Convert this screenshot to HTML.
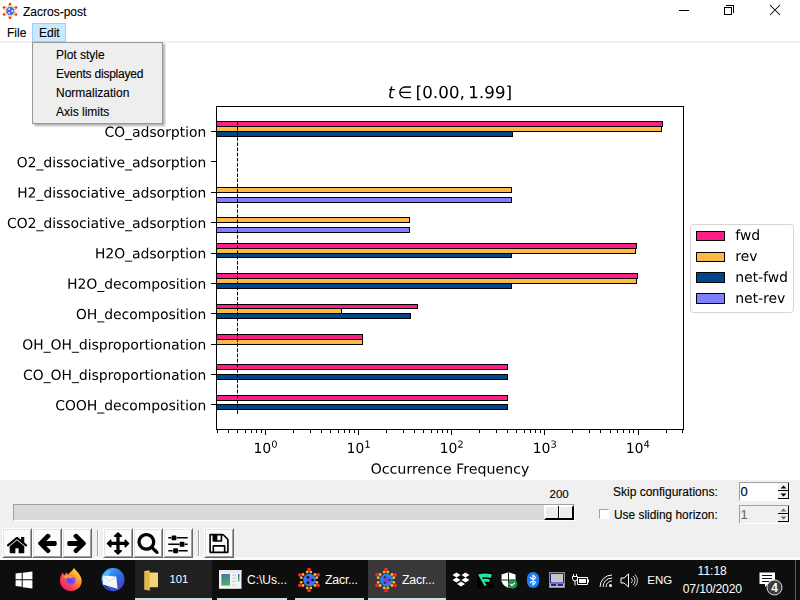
<!DOCTYPE html>
<html><head><meta charset="utf-8"><title>Zacros-post</title>
<style>
*{margin:0;padding:0;box-sizing:border-box}
html,body{width:800px;height:600px;overflow:hidden;background:#fff}
body{position:relative;font-family:"Liberation Sans",sans-serif;color:#000}
.a{position:absolute}
.t{position:absolute;white-space:nowrap;line-height:1;-webkit-text-stroke:0.12px currentColor}
#chart,#shapes{position:absolute;left:0;top:0;z-index:1}
#chart defs path{stroke:#000;stroke-width:1.2;stroke-linejoin:round}
#xlbl{transform-box:fill-box;transform-origin:center;transform:scaleX(1.02)}
#ttl{transform-box:fill-box;transform-origin:center;transform:scaleX(1.008)}
#menu{position:absolute;left:32px;top:42px;width:131px;height:82px;background:#eeeeee;border:1px solid #979797;box-shadow:2px 2px 2px rgba(0,0,0,.3);z-index:5}
.btn{position:absolute;top:528px;width:30px;height:30px;background:#fbfbfb;border-style:solid;border-width:1px;border-color:#fff #696969 #696969 #fff;box-shadow:inset 1px 1px 0 #e3e3e3,inset -1px -1px 0 #a0a0a0}
.btn svg{position:absolute;left:2px;top:2px}
.sep{position:absolute;top:530px;width:2px;height:26px;border-left:1px solid #a0a0a0;border-right:1px solid #fff}
.tb{position:absolute;top:560px;height:40px}
.tbt{position:absolute;color:#fff;font-size:12px;white-space:nowrap;line-height:1}
.ul{position:absolute;bottom:0;height:2px;background:#c3e0ea}
</style></head><body>
<!-- title bar -->
<div class="a" style="left:2px;top:3px"><svg width="16" height="16" viewBox="0 0 16 16"><circle cx="8.3" cy="8" r="4.2" fill="#2f7cf2"/><path d="M5.8 8L9.2 5.8L10 6.4L8.8 8L10 9.6L9.2 10.2Z" fill="#8a3be8"/><circle cx="10.40" cy="8.00" r="0.9" fill="#fff"/><circle cx="7.25" cy="6.18" r="0.9" fill="#fff"/><circle cx="7.25" cy="9.82" r="0.9" fill="#fff"/><circle cx="8.00" cy="1.00" r="1.25" fill="#f5222d"/><circle cx="9.21" cy="2.74" r="0.95" fill="#fdb42a"/><circle cx="6.79" cy="2.74" r="0.95" fill="#fdb42a"/><circle cx="1.94" cy="4.50" r="1.25" fill="#f5222d"/><circle cx="4.05" cy="4.32" r="0.95" fill="#fdb42a"/><circle cx="2.84" cy="6.42" r="0.95" fill="#fdb42a"/><circle cx="1.94" cy="11.50" r="1.25" fill="#f5222d"/><circle cx="2.84" cy="9.58" r="0.95" fill="#fdb42a"/><circle cx="4.05" cy="11.68" r="0.95" fill="#fdb42a"/><circle cx="8.00" cy="15.00" r="1.25" fill="#f5222d"/><circle cx="6.79" cy="13.26" r="0.95" fill="#fdb42a"/><circle cx="9.21" cy="13.26" r="0.95" fill="#fdb42a"/><circle cx="14.06" cy="11.50" r="1.25" fill="#f5222d"/><circle cx="11.95" cy="11.68" r="0.95" fill="#fdb42a"/><circle cx="13.16" cy="9.58" r="0.95" fill="#fdb42a"/><circle cx="14.06" cy="4.50" r="1.25" fill="#f5222d"/><circle cx="13.16" cy="6.42" r="0.95" fill="#fdb42a"/><circle cx="11.95" cy="4.32" r="0.95" fill="#fdb42a"/></svg></div>
<div class="t" style="left:23px;top:6px;font-size:12px">Zacros-post</div>
<div class="a" style="left:679px;top:10px;width:10px;height:1px;background:#000"></div>
<div class="a" style="left:726px;top:5px;width:8px;height:8px;border-top:1px solid #000;border-right:1px solid #000"></div>
<div class="a" style="left:724px;top:7px;width:8px;height:8px;border:1px solid #000;background:#fff"></div>
<svg class="a" style="left:769px;top:4px" width="12" height="12" viewBox="0 0 12 12"><path d="M1 1L11 11M11 1L1 11" stroke="#000" stroke-width="1.05"/></svg>
<!-- menubar -->
<div class="a" style="left:0;top:41px;width:800px;height:2px;background:#f0f0f0"></div>
<div class="t" style="left:7px;top:27px;font-size:12px">File</div>
<div class="a" style="left:32px;top:23px;width:34px;height:19px;background:#cce8ff;border:1px solid #99d1ff"></div>
<div class="t" style="left:39px;top:27px;font-size:12px">Edit</div>
<svg id="shapes" width="800" height="600" viewBox="0 0 800 600" shape-rendering="crispEdges"><rect x="217" y="122" width="445" height="4" fill="#fe1f86"/><rect x="217" y="121" width="446" height="1" fill="#000"/><rect x="217" y="126" width="446" height="1" fill="#000"/><rect x="662" y="121" width="1" height="6" fill="#000"/><rect x="217" y="127" width="444" height="4" fill="#feb845"/><rect x="217" y="126" width="445" height="1" fill="#000"/><rect x="217" y="131" width="445" height="1" fill="#000"/><rect x="661" y="126" width="1" height="6" fill="#000"/><rect x="217" y="132" width="295" height="4" fill="#00468a"/><rect x="217" y="131" width="296" height="1" fill="#000"/><rect x="217" y="136" width="296" height="1" fill="#000"/><rect x="512" y="131" width="1" height="6" fill="#000"/><rect x="217" y="188" width="294" height="4" fill="#feb845"/><rect x="217" y="187" width="295" height="1" fill="#000"/><rect x="217" y="192" width="295" height="1" fill="#000"/><rect x="511" y="187" width="1" height="6" fill="#000"/><rect x="217" y="198" width="294" height="4" fill="#8080fe"/><rect x="217" y="197" width="295" height="1" fill="#000"/><rect x="217" y="202" width="295" height="1" fill="#000"/><rect x="511" y="197" width="1" height="6" fill="#000"/><rect x="217" y="218" width="192" height="4" fill="#feb845"/><rect x="217" y="217" width="193" height="1" fill="#000"/><rect x="217" y="222" width="193" height="1" fill="#000"/><rect x="409" y="217" width="1" height="6" fill="#000"/><rect x="217" y="228" width="192" height="4" fill="#8080fe"/><rect x="217" y="227" width="193" height="1" fill="#000"/><rect x="217" y="232" width="193" height="1" fill="#000"/><rect x="409" y="227" width="1" height="6" fill="#000"/><rect x="217" y="244" width="419" height="4" fill="#fe1f86"/><rect x="217" y="243" width="420" height="1" fill="#000"/><rect x="217" y="248" width="420" height="1" fill="#000"/><rect x="636" y="243" width="1" height="6" fill="#000"/><rect x="217" y="249" width="418" height="4" fill="#feb845"/><rect x="217" y="248" width="419" height="1" fill="#000"/><rect x="217" y="253" width="419" height="1" fill="#000"/><rect x="635" y="248" width="1" height="6" fill="#000"/><rect x="217" y="254" width="294" height="3" fill="#00468a"/><rect x="217" y="253" width="295" height="1" fill="#000"/><rect x="217" y="257" width="295" height="1" fill="#000"/><rect x="511" y="253" width="1" height="5" fill="#000"/><rect x="217" y="274" width="420" height="4" fill="#fe1f86"/><rect x="217" y="273" width="421" height="1" fill="#000"/><rect x="217" y="278" width="421" height="1" fill="#000"/><rect x="637" y="273" width="1" height="6" fill="#000"/><rect x="217" y="279" width="419" height="4" fill="#feb845"/><rect x="217" y="278" width="420" height="1" fill="#000"/><rect x="217" y="283" width="420" height="1" fill="#000"/><rect x="636" y="278" width="1" height="6" fill="#000"/><rect x="217" y="284" width="294" height="4" fill="#00468a"/><rect x="217" y="283" width="295" height="1" fill="#000"/><rect x="217" y="288" width="295" height="1" fill="#000"/><rect x="511" y="283" width="1" height="6" fill="#000"/><rect x="217" y="305" width="200" height="3" fill="#fe1f86"/><rect x="217" y="304" width="201" height="1" fill="#000"/><rect x="217" y="308" width="201" height="1" fill="#000"/><rect x="417" y="304" width="1" height="5" fill="#000"/><rect x="217" y="309" width="124" height="4" fill="#feb845"/><rect x="217" y="308" width="125" height="1" fill="#000"/><rect x="217" y="313" width="125" height="1" fill="#000"/><rect x="341" y="308" width="1" height="6" fill="#000"/><rect x="217" y="314" width="193" height="4" fill="#00468a"/><rect x="217" y="313" width="194" height="1" fill="#000"/><rect x="217" y="318" width="194" height="1" fill="#000"/><rect x="410" y="313" width="1" height="6" fill="#000"/><rect x="217" y="335" width="145" height="4" fill="#fe1f86"/><rect x="217" y="334" width="146" height="1" fill="#000"/><rect x="217" y="339" width="146" height="1" fill="#000"/><rect x="362" y="334" width="1" height="6" fill="#000"/><rect x="217" y="340" width="145" height="4" fill="#feb845"/><rect x="217" y="339" width="146" height="1" fill="#000"/><rect x="217" y="344" width="146" height="1" fill="#000"/><rect x="362" y="339" width="1" height="6" fill="#000"/><rect x="217" y="365" width="290" height="4" fill="#fe1f86"/><rect x="217" y="364" width="291" height="1" fill="#000"/><rect x="217" y="369" width="291" height="1" fill="#000"/><rect x="507" y="364" width="1" height="6" fill="#000"/><rect x="217" y="375" width="290" height="4" fill="#00468a"/><rect x="217" y="374" width="291" height="1" fill="#000"/><rect x="217" y="379" width="291" height="1" fill="#000"/><rect x="507" y="374" width="1" height="6" fill="#000"/><rect x="217" y="396" width="290" height="4" fill="#fe1f86"/><rect x="217" y="395" width="291" height="1" fill="#000"/><rect x="217" y="400" width="291" height="1" fill="#000"/><rect x="507" y="395" width="1" height="6" fill="#000"/><rect x="217" y="405" width="290" height="4" fill="#00468a"/><rect x="217" y="404" width="291" height="1" fill="#000"/><rect x="217" y="409" width="291" height="1" fill="#000"/><rect x="507" y="404" width="1" height="6" fill="#000"/><line shape-rendering="auto" x1="237.5" y1="121.83" x2="237.5" y2="414.69" stroke="#000" stroke-width="1" stroke-dasharray="3.6 1.55"/><rect x="216" y="106" width="468" height="1" fill="#000"/><rect x="216" y="429" width="468" height="1" fill="#000"/><rect x="216" y="106" width="1" height="324" fill="#000"/><rect x="683" y="106" width="1" height="324" fill="#000"/><rect x="211" y="131" width="5" height="1" fill="#000"/><rect x="211" y="161" width="5" height="1" fill="#000"/><rect x="211" y="192" width="5" height="1" fill="#000"/><rect x="211" y="222" width="5" height="1" fill="#000"/><rect x="211" y="253" width="5" height="1" fill="#000"/><rect x="211" y="283" width="5" height="1" fill="#000"/><rect x="211" y="313" width="5" height="1" fill="#000"/><rect x="211" y="344" width="5" height="1" fill="#000"/><rect x="211" y="374" width="5" height="1" fill="#000"/><rect x="211" y="404" width="5" height="1" fill="#000"/><rect x="217" y="430" width="1" height="3" fill="#000"/><rect x="228" y="430" width="1" height="3" fill="#000"/><rect x="237" y="430" width="1" height="3" fill="#000"/><rect x="245" y="430" width="1" height="3" fill="#000"/><rect x="251" y="430" width="1" height="3" fill="#000"/><rect x="256" y="430" width="1" height="3" fill="#000"/><rect x="261" y="430" width="1" height="3" fill="#000"/><rect x="265" y="430" width="1" height="5" fill="#000"/><rect x="293" y="430" width="1" height="3" fill="#000"/><rect x="310" y="430" width="1" height="3" fill="#000"/><rect x="321" y="430" width="1" height="3" fill="#000"/><rect x="330" y="430" width="1" height="3" fill="#000"/><rect x="338" y="430" width="1" height="3" fill="#000"/><rect x="344" y="430" width="1" height="3" fill="#000"/><rect x="349" y="430" width="1" height="3" fill="#000"/><rect x="354" y="430" width="1" height="3" fill="#000"/><rect x="358" y="430" width="1" height="5" fill="#000"/><rect x="386" y="430" width="1" height="3" fill="#000"/><rect x="403" y="430" width="1" height="3" fill="#000"/><rect x="414" y="430" width="1" height="3" fill="#000"/><rect x="423" y="430" width="1" height="3" fill="#000"/><rect x="431" y="430" width="1" height="3" fill="#000"/><rect x="437" y="430" width="1" height="3" fill="#000"/><rect x="442" y="430" width="1" height="3" fill="#000"/><rect x="447" y="430" width="1" height="3" fill="#000"/><rect x="451" y="430" width="1" height="5" fill="#000"/><rect x="479" y="430" width="1" height="3" fill="#000"/><rect x="496" y="430" width="1" height="3" fill="#000"/><rect x="507" y="430" width="1" height="3" fill="#000"/><rect x="516" y="430" width="1" height="3" fill="#000"/><rect x="524" y="430" width="1" height="3" fill="#000"/><rect x="530" y="430" width="1" height="3" fill="#000"/><rect x="535" y="430" width="1" height="3" fill="#000"/><rect x="540" y="430" width="1" height="3" fill="#000"/><rect x="544" y="430" width="1" height="5" fill="#000"/><rect x="572" y="430" width="1" height="3" fill="#000"/><rect x="589" y="430" width="1" height="3" fill="#000"/><rect x="600" y="430" width="1" height="3" fill="#000"/><rect x="610" y="430" width="1" height="3" fill="#000"/><rect x="617" y="430" width="1" height="3" fill="#000"/><rect x="623" y="430" width="1" height="3" fill="#000"/><rect x="629" y="430" width="1" height="3" fill="#000"/><rect x="633" y="430" width="1" height="3" fill="#000"/><rect x="638" y="430" width="1" height="5" fill="#000"/><rect x="666" y="430" width="1" height="3" fill="#000"/><rect x="682" y="430" width="1" height="3" fill="#000"/><rect shape-rendering="auto" x="690.5" y="224.5" width="103" height="88" rx="2.8" fill="#fff" fill-opacity="0.8" stroke="#cccccc" stroke-opacity="0.8" stroke-width="1"/><rect x="697" y="232" width="27" height="8" fill="#fe1f86"/><rect x="696" y="231" width="29" height="1" fill="#000"/><rect x="696" y="240" width="29" height="1" fill="#000"/><rect x="696" y="231" width="1" height="10" fill="#000"/><rect x="724" y="231" width="1" height="10" fill="#000"/><rect x="697" y="253" width="27" height="8" fill="#feb845"/><rect x="696" y="252" width="29" height="1" fill="#000"/><rect x="696" y="261" width="29" height="1" fill="#000"/><rect x="696" y="252" width="1" height="10" fill="#000"/><rect x="724" y="252" width="1" height="10" fill="#000"/><rect x="697" y="273" width="27" height="9" fill="#00468a"/><rect x="696" y="272" width="29" height="1" fill="#000"/><rect x="696" y="282" width="29" height="1" fill="#000"/><rect x="696" y="272" width="1" height="11" fill="#000"/><rect x="724" y="272" width="1" height="11" fill="#000"/><rect x="697" y="294" width="27" height="9" fill="#8080fe"/><rect x="696" y="293" width="29" height="1" fill="#000"/><rect x="696" y="303" width="29" height="1" fill="#000"/><rect x="696" y="293" width="1" height="11" fill="#000"/><rect x="724" y="293" width="1" height="11" fill="#000"/></svg><svg id="chart" width="800" height="600" viewBox="0 0 576 432" version="1.1"><defs><style type="text/css">*{stroke-linejoin: round; stroke-linecap: butt}</style></defs><g id="figure_1"><g id="patch_1"><path d="M 0 432 L 576 432 L 576 0 L 0 0 L 0 432 z " style="fill: none; opacity: 0"/></g><g id="axes_1"><g id="patch_2"><path d="M 155.88 309.24 L 492.12 309.24 L 492.12 76.68 L 155.88 76.68 L 155.88 309.24 z " style="fill: none; opacity: 0"/></g><g id="matplotlib.axis_1"><g id="xtick_1"><g id="line2d_1"><defs><path id="mf0cb0c5681" d="M 0 0 L 0 3.5 " style="stroke: #000000; stroke-opacity: 0; stroke-width: 0.8"/></defs><g></g></g><g id="text_1"><!-- $\mathdefault{10^{0}}$ --><g transform="translate(182.54 326.214438) scale(0.1 -0.1)"><defs><path id="DejaVuSans-31" d="M 794 531 L 1825 531 L 1825 4091 L 703 3866 L 703 4441 L 1819 4666 L 2450 4666 L 2450 531 L 3481 531 L 3481 0 L 794 0 L 794 531 z " transform="scale(0.015625)"/><path id="DejaVuSans-30" d="M 2034 4250 Q 1547 4250 1301 3770 Q 1056 3291 1056 2328 Q 1056 1369 1301 889 Q 1547 409 2034 409 Q 2525 409 2770 889 Q 3016 1369 3016 2328 Q 3016 3291 2770 3770 Q 2525 4250 2034 4250 z M 2034 4750 Q 2819 4750 3233 4129 Q 3647 3509 3647 2328 Q 3647 1150 3233 529 Q 2819 -91 2034 -91 Q 1250 -91 836 529 Q 422 1150 422 2328 Q 422 3509 836 4129 Q 1250 4750 2034 4750 z " transform="scale(0.015625)"/></defs><use href="#DejaVuSans-31" transform="translate(0 0.765625)"/><use href="#DejaVuSans-30" transform="translate(63.623047 0.765625)"/><use href="#DejaVuSans-30" transform="translate(128.203125 39.046875) scale(0.7)"/></g></g></g><g id="xtick_2"><g id="line2d_2"><g></g></g><g id="text_2"><!-- $\mathdefault{10^{1}}$ --><g transform="translate(249.5504 326.214438) scale(0.1 -0.1)"><use href="#DejaVuSans-31" transform="translate(0 0.684375)"/><use href="#DejaVuSans-30" transform="translate(63.623047 0.684375)"/><use href="#DejaVuSans-31" transform="translate(128.203125 38.965625) scale(0.7)"/></g></g></g><g id="xtick_3"><g id="line2d_3"><g></g></g><g id="text_3"><!-- $\mathdefault{10^{2}}$ --><g transform="translate(316.5608 326.214438) scale(0.1 -0.1)"><defs><path id="DejaVuSans-32" d="M 1228 531 L 3431 531 L 3431 0 L 469 0 L 469 531 Q 828 903 1448 1529 Q 2069 2156 2228 2338 Q 2531 2678 2651 2914 Q 2772 3150 2772 3378 Q 2772 3750 2511 3984 Q 2250 4219 1831 4219 Q 1534 4219 1204 4116 Q 875 4013 500 3803 L 500 4441 Q 881 4594 1212 4672 Q 1544 4750 1819 4750 Q 2544 4750 2975 4387 Q 3406 4025 3406 3419 Q 3406 3131 3298 2873 Q 3191 2616 2906 2266 Q 2828 2175 2409 1742 Q 1991 1309 1228 531 z " transform="scale(0.015625)"/></defs><use href="#DejaVuSans-31" transform="translate(0 0.765625)"/><use href="#DejaVuSans-30" transform="translate(63.623047 0.765625)"/><use href="#DejaVuSans-32" transform="translate(128.203125 39.046875) scale(0.7)"/></g></g></g><g id="xtick_4"><g id="line2d_4"><g></g></g><g id="text_4"><!-- $\mathdefault{10^{3}}$ --><g transform="translate(383.5712 326.214438) scale(0.1 -0.1)"><defs><path id="DejaVuSans-33" d="M 2597 2516 Q 3050 2419 3304 2112 Q 3559 1806 3559 1356 Q 3559 666 3084 287 Q 2609 -91 1734 -91 Q 1441 -91 1130 -33 Q 819 25 488 141 L 488 750 Q 750 597 1062 519 Q 1375 441 1716 441 Q 2309 441 2620 675 Q 2931 909 2931 1356 Q 2931 1769 2642 2001 Q 2353 2234 1838 2234 L 1294 2234 L 1294 2753 L 1863 2753 Q 2328 2753 2575 2939 Q 2822 3125 2822 3475 Q 2822 3834 2567 4026 Q 2313 4219 1838 4219 Q 1578 4219 1281 4162 Q 984 4106 628 3988 L 628 4550 Q 988 4650 1302 4700 Q 1616 4750 1894 4750 Q 2613 4750 3031 4423 Q 3450 4097 3450 3541 Q 3450 3153 3228 2886 Q 3006 2619 2597 2516 z " transform="scale(0.015625)"/></defs><use href="#DejaVuSans-31" transform="translate(0 0.765625)"/><use href="#DejaVuSans-30" transform="translate(63.623047 0.765625)"/><use href="#DejaVuSans-33" transform="translate(128.203125 39.046875) scale(0.7)"/></g></g></g><g id="xtick_5"><g id="line2d_5"><g></g></g><g id="text_5"><!-- $\mathdefault{10^{4}}$ --><g transform="translate(450.5816 326.214438) scale(0.1 -0.1)"><defs><path id="DejaVuSans-34" d="M 2419 4116 L 825 1625 L 2419 1625 L 2419 4116 z M 2253 4666 L 3047 4666 L 3047 1625 L 3713 1625 L 3713 1100 L 3047 1100 L 3047 0 L 2419 0 L 2419 1100 L 313 1100 L 313 1709 L 2253 4666 z " transform="scale(0.015625)"/></defs><use href="#DejaVuSans-31" transform="translate(0 0.684375)"/><use href="#DejaVuSans-30" transform="translate(63.623047 0.684375)"/><use href="#DejaVuSans-34" transform="translate(128.203125 38.965625) scale(0.7)"/></g></g></g><g id="xtick_6"><g id="line2d_6"><defs><path id="mb6e50585e4" d="M 0 0 L 0 2 " style="stroke: #000000; stroke-opacity: 0; stroke-width: 0.6"/></defs><g></g></g></g><g id="xtick_7"><g id="line2d_7"><g></g></g></g><g id="xtick_8"><g id="line2d_8"><g></g></g></g><g id="xtick_9"><g id="line2d_9"><g></g></g></g><g id="xtick_10"><g id="line2d_10"><g></g></g></g><g id="xtick_11"><g id="line2d_11"><g></g></g></g><g id="xtick_12"><g id="line2d_12"><g></g></g></g><g id="xtick_13"><g id="line2d_13"><g></g></g></g><g id="xtick_14"><g id="line2d_14"><g></g></g></g><g id="xtick_15"><g id="line2d_15"><g></g></g></g><g id="xtick_16"><g id="line2d_16"><g></g></g></g><g id="xtick_17"><g id="line2d_17"><g></g></g></g><g id="xtick_18"><g id="line2d_18"><g></g></g></g><g id="xtick_19"><g id="line2d_19"><g></g></g></g><g id="xtick_20"><g id="line2d_20"><g></g></g></g><g id="xtick_21"><g id="line2d_21"><g></g></g></g><g id="xtick_22"><g id="line2d_22"><g></g></g></g><g id="xtick_23"><g id="line2d_23"><g></g></g></g><g id="xtick_24"><g id="line2d_24"><g></g></g></g><g id="xtick_25"><g id="line2d_25"><g></g></g></g><g id="xtick_26"><g id="line2d_26"><g></g></g></g><g id="xtick_27"><g id="line2d_27"><g></g></g></g><g id="xtick_28"><g id="line2d_28"><g></g></g></g><g id="xtick_29"><g id="line2d_29"><g></g></g></g><g id="xtick_30"><g id="line2d_30"><g></g></g></g><g id="xtick_31"><g id="line2d_31"><g></g></g></g><g id="xtick_32"><g id="line2d_32"><g></g></g></g><g id="xtick_33"><g id="line2d_33"><g></g></g></g><g id="xtick_34"><g id="line2d_34"><g></g></g></g><g id="xtick_35"><g id="line2d_35"><g></g></g></g><g id="xtick_36"><g id="line2d_36"><g></g></g></g><g id="xtick_37"><g id="line2d_37"><g></g></g></g><g id="xtick_38"><g id="line2d_38"><g></g></g></g><g id="xtick_39"><g id="line2d_39"><g></g></g></g><g id="xtick_40"><g id="line2d_40"><g></g></g></g><g id="xtick_41"><g id="line2d_41"><g></g></g></g><g id="xtick_42"><g id="line2d_42"><g></g></g></g><g id="xtick_43"><g id="line2d_43"><g></g></g></g><g id="xtick_44"><g id="line2d_44"><g></g></g></g><g id="xtick_45"><g id="line2d_45"><g></g></g></g><g id="xtick_46"><g id="line2d_46"><g></g></g></g><g id="xlbl"><!-- Occurrence Frequency --><g transform="translate(267.996094 341.044562) scale(0.1 -0.1)"><defs><path id="DejaVuSans-4f" d="M 2522 4238 Q 1834 4238 1429 3725 Q 1025 3213 1025 2328 Q 1025 1447 1429 934 Q 1834 422 2522 422 Q 3209 422 3611 934 Q 4013 1447 4013 2328 Q 4013 3213 3611 3725 Q 3209 4238 2522 4238 z M 2522 4750 Q 3503 4750 4090 4092 Q 4678 3434 4678 2328 Q 4678 1225 4090 567 Q 3503 -91 2522 -91 Q 1538 -91 948 565 Q 359 1222 359 2328 Q 359 3434 948 4092 Q 1538 4750 2522 4750 z " transform="scale(0.015625)"/><path id="DejaVuSans-63" d="M 3122 3366 L 3122 2828 Q 2878 2963 2633 3030 Q 2388 3097 2138 3097 Q 1578 3097 1268 2742 Q 959 2388 959 1747 Q 959 1106 1268 751 Q 1578 397 2138 397 Q 2388 397 2633 464 Q 2878 531 3122 666 L 3122 134 Q 2881 22 2623 -34 Q 2366 -91 2075 -91 Q 1284 -91 818 406 Q 353 903 353 1747 Q 353 2603 823 3093 Q 1294 3584 2113 3584 Q 2378 3584 2631 3529 Q 2884 3475 3122 3366 z " transform="scale(0.015625)"/><path id="DejaVuSans-75" d="M 544 1381 L 544 3500 L 1119 3500 L 1119 1403 Q 1119 906 1312 657 Q 1506 409 1894 409 Q 2359 409 2629 706 Q 2900 1003 2900 1516 L 2900 3500 L 3475 3500 L 3475 0 L 2900 0 L 2900 538 Q 2691 219 2414 64 Q 2138 -91 1772 -91 Q 1169 -91 856 284 Q 544 659 544 1381 z M 1991 3584 L 1991 3584 z " transform="scale(0.015625)"/><path id="DejaVuSans-72" d="M 2631 2963 Q 2534 3019 2420 3045 Q 2306 3072 2169 3072 Q 1681 3072 1420 2755 Q 1159 2438 1159 1844 L 1159 0 L 581 0 L 581 3500 L 1159 3500 L 1159 2956 Q 1341 3275 1631 3429 Q 1922 3584 2338 3584 Q 2397 3584 2469 3576 Q 2541 3569 2628 3553 L 2631 2963 z " transform="scale(0.015625)"/><path id="DejaVuSans-65" d="M 3597 1894 L 3597 1613 L 953 1613 Q 991 1019 1311 708 Q 1631 397 2203 397 Q 2534 397 2845 478 Q 3156 559 3463 722 L 3463 178 Q 3153 47 2828 -22 Q 2503 -91 2169 -91 Q 1331 -91 842 396 Q 353 884 353 1716 Q 353 2575 817 3079 Q 1281 3584 2069 3584 Q 2775 3584 3186 3129 Q 3597 2675 3597 1894 z M 3022 2063 Q 3016 2534 2758 2815 Q 2500 3097 2075 3097 Q 1594 3097 1305 2825 Q 1016 2553 972 2059 L 3022 2063 z " transform="scale(0.015625)"/><path id="DejaVuSans-6e" d="M 3513 2113 L 3513 0 L 2938 0 L 2938 2094 Q 2938 2591 2744 2837 Q 2550 3084 2163 3084 Q 1697 3084 1428 2787 Q 1159 2491 1159 1978 L 1159 0 L 581 0 L 581 3500 L 1159 3500 L 1159 2956 Q 1366 3272 1645 3428 Q 1925 3584 2291 3584 Q 2894 3584 3203 3211 Q 3513 2838 3513 2113 z " transform="scale(0.015625)"/><path id="DejaVuSans-20" transform="scale(0.015625)"/><path id="DejaVuSans-46" d="M 628 4666 L 3309 4666 L 3309 4134 L 1259 4134 L 1259 2759 L 3109 2759 L 3109 2228 L 1259 2228 L 1259 0 L 628 0 L 628 4666 z " transform="scale(0.015625)"/><path id="DejaVuSans-71" d="M 947 1747 Q 947 1113 1208 752 Q 1469 391 1925 391 Q 2381 391 2643 752 Q 2906 1113 2906 1747 Q 2906 2381 2643 2742 Q 2381 3103 1925 3103 Q 1469 3103 1208 2742 Q 947 2381 947 1747 z M 2906 525 Q 2725 213 2448 61 Q 2172 -91 1784 -91 Q 1150 -91 751 415 Q 353 922 353 1747 Q 353 2572 751 3078 Q 1150 3584 1784 3584 Q 2172 3584 2448 3432 Q 2725 3281 2906 2969 L 2906 3500 L 3481 3500 L 3481 -1331 L 2906 -1331 L 2906 525 z " transform="scale(0.015625)"/><path id="DejaVuSans-79" d="M 2059 -325 Q 1816 -950 1584 -1140 Q 1353 -1331 966 -1331 L 506 -1331 L 506 -850 L 844 -850 Q 1081 -850 1212 -737 Q 1344 -625 1503 -206 L 1606 56 L 191 3500 L 800 3500 L 1894 763 L 2988 3500 L 3597 3500 L 2059 -325 z " transform="scale(0.015625)"/></defs><use href="#DejaVuSans-4f"/><use href="#DejaVuSans-63" transform="translate(78.710938 0)"/><use href="#DejaVuSans-63" transform="translate(133.691406 0)"/><use href="#DejaVuSans-75" transform="translate(188.671875 0)"/><use href="#DejaVuSans-72" transform="translate(252.050781 0)"/><use href="#DejaVuSans-72" transform="translate(291.414062 0)"/><use href="#DejaVuSans-65" transform="translate(330.277344 0)"/><use href="#DejaVuSans-6e" transform="translate(391.800781 0)"/><use href="#DejaVuSans-63" transform="translate(455.179688 0)"/><use href="#DejaVuSans-65" transform="translate(510.160156 0)"/><use href="#DejaVuSans-20" transform="translate(571.683594 0)"/><use href="#DejaVuSans-46" transform="translate(603.470703 0)"/><use href="#DejaVuSans-72" transform="translate(653.740234 0)"/><use href="#DejaVuSans-65" transform="translate(692.603516 0)"/><use href="#DejaVuSans-71" transform="translate(754.126953 0)"/><use href="#DejaVuSans-75" transform="translate(817.603516 0)"/><use href="#DejaVuSans-65" transform="translate(880.982422 0)"/><use href="#DejaVuSans-6e" transform="translate(942.505859 0)"/><use href="#DejaVuSans-63" transform="translate(1005.884766 0)"/><use href="#DejaVuSans-79" transform="translate(1060.865234 0)"/></g></g></g><g id="matplotlib.axis_2"><g id="ytick_1"><g id="line2d_47"><defs><path id="m7ebbb2c059" d="M 0 0 L -3.5 0 " style="stroke: #000000; stroke-opacity: 0; stroke-width: 0.8"/></defs><g></g></g><g id="text_6"><!-- CO_adsorption --><g transform="translate(75.246562 98.515219) scale(0.1 -0.1)"><defs><path id="DejaVuSans-43" d="M 4122 4306 L 4122 3641 Q 3803 3938 3442 4084 Q 3081 4231 2675 4231 Q 1875 4231 1450 3742 Q 1025 3253 1025 2328 Q 1025 1406 1450 917 Q 1875 428 2675 428 Q 3081 428 3442 575 Q 3803 722 4122 1019 L 4122 359 Q 3791 134 3420 21 Q 3050 -91 2638 -91 Q 1578 -91 968 557 Q 359 1206 359 2328 Q 359 3453 968 4101 Q 1578 4750 2638 4750 Q 3056 4750 3426 4639 Q 3797 4528 4122 4306 z " transform="scale(0.015625)"/><path id="DejaVuSans-5f" d="M 3263 -1063 L 3263 -1509 L -63 -1509 L -63 -1063 L 3263 -1063 z " transform="scale(0.015625)"/><path id="DejaVuSans-61" d="M 2194 1759 Q 1497 1759 1228 1600 Q 959 1441 959 1056 Q 959 750 1161 570 Q 1363 391 1709 391 Q 2188 391 2477 730 Q 2766 1069 2766 1631 L 2766 1759 L 2194 1759 z M 3341 1997 L 3341 0 L 2766 0 L 2766 531 Q 2569 213 2275 61 Q 1981 -91 1556 -91 Q 1019 -91 701 211 Q 384 513 384 1019 Q 384 1609 779 1909 Q 1175 2209 1959 2209 L 2766 2209 L 2766 2266 Q 2766 2663 2505 2880 Q 2244 3097 1772 3097 Q 1472 3097 1187 3025 Q 903 2953 641 2809 L 641 3341 Q 956 3463 1253 3523 Q 1550 3584 1831 3584 Q 2591 3584 2966 3190 Q 3341 2797 3341 1997 z " transform="scale(0.015625)"/><path id="DejaVuSans-64" d="M 2906 2969 L 2906 4863 L 3481 4863 L 3481 0 L 2906 0 L 2906 525 Q 2725 213 2448 61 Q 2172 -91 1784 -91 Q 1150 -91 751 415 Q 353 922 353 1747 Q 353 2572 751 3078 Q 1150 3584 1784 3584 Q 2172 3584 2448 3432 Q 2725 3281 2906 2969 z M 947 1747 Q 947 1113 1208 752 Q 1469 391 1925 391 Q 2381 391 2643 752 Q 2906 1113 2906 1747 Q 2906 2381 2643 2742 Q 2381 3103 1925 3103 Q 1469 3103 1208 2742 Q 947 2381 947 1747 z " transform="scale(0.015625)"/><path id="DejaVuSans-73" d="M 2834 3397 L 2834 2853 Q 2591 2978 2328 3040 Q 2066 3103 1784 3103 Q 1356 3103 1142 2972 Q 928 2841 928 2578 Q 928 2378 1081 2264 Q 1234 2150 1697 2047 L 1894 2003 Q 2506 1872 2764 1633 Q 3022 1394 3022 966 Q 3022 478 2636 193 Q 2250 -91 1575 -91 Q 1294 -91 989 -36 Q 684 19 347 128 L 347 722 Q 666 556 975 473 Q 1284 391 1588 391 Q 1994 391 2212 530 Q 2431 669 2431 922 Q 2431 1156 2273 1281 Q 2116 1406 1581 1522 L 1381 1569 Q 847 1681 609 1914 Q 372 2147 372 2553 Q 372 3047 722 3315 Q 1072 3584 1716 3584 Q 2034 3584 2315 3537 Q 2597 3491 2834 3397 z " transform="scale(0.015625)"/><path id="DejaVuSans-6f" d="M 1959 3097 Q 1497 3097 1228 2736 Q 959 2375 959 1747 Q 959 1119 1226 758 Q 1494 397 1959 397 Q 2419 397 2687 759 Q 2956 1122 2956 1747 Q 2956 2369 2687 2733 Q 2419 3097 1959 3097 z M 1959 3584 Q 2709 3584 3137 3096 Q 3566 2609 3566 1747 Q 3566 888 3137 398 Q 2709 -91 1959 -91 Q 1206 -91 779 398 Q 353 888 353 1747 Q 353 2609 779 3096 Q 1206 3584 1959 3584 z " transform="scale(0.015625)"/><path id="DejaVuSans-70" d="M 1159 525 L 1159 -1331 L 581 -1331 L 581 3500 L 1159 3500 L 1159 2969 Q 1341 3281 1617 3432 Q 1894 3584 2278 3584 Q 2916 3584 3314 3078 Q 3713 2572 3713 1747 Q 3713 922 3314 415 Q 2916 -91 2278 -91 Q 1894 -91 1617 61 Q 1341 213 1159 525 z M 3116 1747 Q 3116 2381 2855 2742 Q 2594 3103 2138 3103 Q 1681 3103 1420 2742 Q 1159 2381 1159 1747 Q 1159 1113 1420 752 Q 1681 391 2138 391 Q 2594 391 2855 752 Q 3116 1113 3116 1747 z " transform="scale(0.015625)"/><path id="DejaVuSans-74" d="M 1172 4494 L 1172 3500 L 2356 3500 L 2356 3053 L 1172 3053 L 1172 1153 Q 1172 725 1289 603 Q 1406 481 1766 481 L 2356 481 L 2356 0 L 1766 0 Q 1100 0 847 248 Q 594 497 594 1153 L 594 3053 L 172 3053 L 172 3500 L 594 3500 L 594 4494 L 1172 4494 z " transform="scale(0.015625)"/><path id="DejaVuSans-69" d="M 603 3500 L 1178 3500 L 1178 0 L 603 0 L 603 3500 z M 603 4863 L 1178 4863 L 1178 4134 L 603 4134 L 603 4863 z " transform="scale(0.015625)"/></defs><use href="#DejaVuSans-43"/><use href="#DejaVuSans-4f" transform="translate(69.824219 0)"/><use href="#DejaVuSans-5f" transform="translate(148.535156 0)"/><use href="#DejaVuSans-61" transform="translate(198.535156 0)"/><use href="#DejaVuSans-64" transform="translate(259.814453 0)"/><use href="#DejaVuSans-73" transform="translate(323.291016 0)"/><use href="#DejaVuSans-6f" transform="translate(375.390625 0)"/><use href="#DejaVuSans-72" transform="translate(436.572266 0)"/><use href="#DejaVuSans-70" transform="translate(477.685547 0)"/><use href="#DejaVuSans-74" transform="translate(541.162109 0)"/><use href="#DejaVuSans-69" transform="translate(580.371094 0)"/><use href="#DejaVuSans-6f" transform="translate(608.154297 0)"/><use href="#DejaVuSans-6e" transform="translate(669.335938 0)"/></g></g></g><g id="ytick_2"><g id="line2d_48"><g></g></g><g id="text_7"><!-- O2_dissociative_adsorption --><g transform="translate(12.027812 120.388819) scale(0.1 -0.1)"><defs><path id="DejaVuSans-76" d="M 191 3500 L 800 3500 L 1894 563 L 2988 3500 L 3597 3500 L 2284 0 L 1503 0 L 191 3500 z " transform="scale(0.015625)"/></defs><use href="#DejaVuSans-4f"/><use href="#DejaVuSans-32" transform="translate(78.710938 0)"/><use href="#DejaVuSans-5f" transform="translate(142.333984 0)"/><use href="#DejaVuSans-64" transform="translate(192.333984 0)"/><use href="#DejaVuSans-69" transform="translate(255.810547 0)"/><use href="#DejaVuSans-73" transform="translate(283.59375 0)"/><use href="#DejaVuSans-73" transform="translate(335.693359 0)"/><use href="#DejaVuSans-6f" transform="translate(387.792969 0)"/><use href="#DejaVuSans-63" transform="translate(448.974609 0)"/><use href="#DejaVuSans-69" transform="translate(503.955078 0)"/><use href="#DejaVuSans-61" transform="translate(531.738281 0)"/><use href="#DejaVuSans-74" transform="translate(593.017578 0)"/><use href="#DejaVuSans-69" transform="translate(632.226562 0)"/><use href="#DejaVuSans-76" transform="translate(660.009766 0)"/><use href="#DejaVuSans-65" transform="translate(719.189453 0)"/><use href="#DejaVuSans-5f" transform="translate(780.712891 0)"/><use href="#DejaVuSans-61" transform="translate(830.712891 0)"/><use href="#DejaVuSans-64" transform="translate(891.992188 0)"/><use href="#DejaVuSans-73" transform="translate(955.46875 0)"/><use href="#DejaVuSans-6f" transform="translate(1007.568359 0)"/><use href="#DejaVuSans-72" transform="translate(1068.75 0)"/><use href="#DejaVuSans-70" transform="translate(1109.863281 0)"/><use href="#DejaVuSans-74" transform="translate(1173.339844 0)"/><use href="#DejaVuSans-69" transform="translate(1212.548828 0)"/><use href="#DejaVuSans-6f" transform="translate(1240.332031 0)"/><use href="#DejaVuSans-6e" transform="translate(1301.513672 0)"/></g></g></g><g id="ytick_3"><g id="line2d_49"><g></g></g><g id="text_8"><!-- H2_dissociative_adsorption --><g transform="translate(12.379375 142.262419) scale(0.1 -0.1)"><defs><path id="DejaVuSans-48" d="M 628 4666 L 1259 4666 L 1259 2753 L 3553 2753 L 3553 4666 L 4184 4666 L 4184 0 L 3553 0 L 3553 2222 L 1259 2222 L 1259 0 L 628 0 L 628 4666 z " transform="scale(0.015625)"/></defs><use href="#DejaVuSans-48"/><use href="#DejaVuSans-32" transform="translate(75.195312 0)"/><use href="#DejaVuSans-5f" transform="translate(138.818359 0)"/><use href="#DejaVuSans-64" transform="translate(188.818359 0)"/><use href="#DejaVuSans-69" transform="translate(252.294922 0)"/><use href="#DejaVuSans-73" transform="translate(280.078125 0)"/><use href="#DejaVuSans-73" transform="translate(332.177734 0)"/><use href="#DejaVuSans-6f" transform="translate(384.277344 0)"/><use href="#DejaVuSans-63" transform="translate(445.458984 0)"/><use href="#DejaVuSans-69" transform="translate(500.439453 0)"/><use href="#DejaVuSans-61" transform="translate(528.222656 0)"/><use href="#DejaVuSans-74" transform="translate(589.501953 0)"/><use href="#DejaVuSans-69" transform="translate(628.710938 0)"/><use href="#DejaVuSans-76" transform="translate(656.494141 0)"/><use href="#DejaVuSans-65" transform="translate(715.673828 0)"/><use href="#DejaVuSans-5f" transform="translate(777.197266 0)"/><use href="#DejaVuSans-61" transform="translate(827.197266 0)"/><use href="#DejaVuSans-64" transform="translate(888.476562 0)"/><use href="#DejaVuSans-73" transform="translate(951.953125 0)"/><use href="#DejaVuSans-6f" transform="translate(1004.052734 0)"/><use href="#DejaVuSans-72" transform="translate(1065.234375 0)"/><use href="#DejaVuSans-70" transform="translate(1106.347656 0)"/><use href="#DejaVuSans-74" transform="translate(1169.824219 0)"/><use href="#DejaVuSans-69" transform="translate(1209.033203 0)"/><use href="#DejaVuSans-6f" transform="translate(1236.816406 0)"/><use href="#DejaVuSans-6e" transform="translate(1297.998047 0)"/></g></g></g><g id="ytick_4"><g id="line2d_50"><g></g></g><g id="text_9"><!-- CO2_dissociative_adsorption --><g transform="translate(5.045 164.136019) scale(0.1 -0.1)"><use href="#DejaVuSans-43"/><use href="#DejaVuSans-4f" transform="translate(69.824219 0)"/><use href="#DejaVuSans-32" transform="translate(148.535156 0)"/><use href="#DejaVuSans-5f" transform="translate(212.158203 0)"/><use href="#DejaVuSans-64" transform="translate(262.158203 0)"/><use href="#DejaVuSans-69" transform="translate(325.634766 0)"/><use href="#DejaVuSans-73" transform="translate(353.417969 0)"/><use href="#DejaVuSans-73" transform="translate(405.517578 0)"/><use href="#DejaVuSans-6f" transform="translate(457.617188 0)"/><use href="#DejaVuSans-63" transform="translate(518.798828 0)"/><use href="#DejaVuSans-69" transform="translate(573.779297 0)"/><use href="#DejaVuSans-61" transform="translate(601.5625 0)"/><use href="#DejaVuSans-74" transform="translate(662.841797 0)"/><use href="#DejaVuSans-69" transform="translate(702.050781 0)"/><use href="#DejaVuSans-76" transform="translate(729.833984 0)"/><use href="#DejaVuSans-65" transform="translate(789.013672 0)"/><use href="#DejaVuSans-5f" transform="translate(850.537109 0)"/><use href="#DejaVuSans-61" transform="translate(900.537109 0)"/><use href="#DejaVuSans-64" transform="translate(961.816406 0)"/><use href="#DejaVuSans-73" transform="translate(1025.292969 0)"/><use href="#DejaVuSans-6f" transform="translate(1077.392578 0)"/><use href="#DejaVuSans-72" transform="translate(1138.574219 0)"/><use href="#DejaVuSans-70" transform="translate(1179.6875 0)"/><use href="#DejaVuSans-74" transform="translate(1243.164062 0)"/><use href="#DejaVuSans-69" transform="translate(1282.373047 0)"/><use href="#DejaVuSans-6f" transform="translate(1310.15625 0)"/><use href="#DejaVuSans-6e" transform="translate(1371.337891 0)"/></g></g></g><g id="ytick_5"><g id="line2d_51"><g></g></g><g id="text_10"><!-- H2O_adsorption --><g transform="translate(68.346562 186.009619) scale(0.1 -0.1)"><use href="#DejaVuSans-48"/><use href="#DejaVuSans-32" transform="translate(75.195312 0)"/><use href="#DejaVuSans-4f" transform="translate(138.818359 0)"/><use href="#DejaVuSans-5f" transform="translate(217.529297 0)"/><use href="#DejaVuSans-61" transform="translate(267.529297 0)"/><use href="#DejaVuSans-64" transform="translate(328.808594 0)"/><use href="#DejaVuSans-73" transform="translate(392.285156 0)"/><use href="#DejaVuSans-6f" transform="translate(444.384766 0)"/><use href="#DejaVuSans-72" transform="translate(505.566406 0)"/><use href="#DejaVuSans-70" transform="translate(546.679688 0)"/><use href="#DejaVuSans-74" transform="translate(610.15625 0)"/><use href="#DejaVuSans-69" transform="translate(649.365234 0)"/><use href="#DejaVuSans-6f" transform="translate(677.148438 0)"/><use href="#DejaVuSans-6e" transform="translate(738.330078 0)"/></g></g></g><g id="ytick_6"><g id="line2d_52"><g></g></g><g id="text_11"><!-- H2O_decomposition --><g transform="translate(48.296562 207.883219) scale(0.1 -0.1)"><defs><path id="DejaVuSans-6d" d="M 3328 2828 Q 3544 3216 3844 3400 Q 4144 3584 4550 3584 Q 5097 3584 5394 3201 Q 5691 2819 5691 2113 L 5691 0 L 5113 0 L 5113 2094 Q 5113 2597 4934 2840 Q 4756 3084 4391 3084 Q 3944 3084 3684 2787 Q 3425 2491 3425 1978 L 3425 0 L 2847 0 L 2847 2094 Q 2847 2600 2669 2842 Q 2491 3084 2119 3084 Q 1678 3084 1418 2786 Q 1159 2488 1159 1978 L 1159 0 L 581 0 L 581 3500 L 1159 3500 L 1159 2956 Q 1356 3278 1631 3431 Q 1906 3584 2284 3584 Q 2666 3584 2933 3390 Q 3200 3197 3328 2828 z " transform="scale(0.015625)"/></defs><use href="#DejaVuSans-48"/><use href="#DejaVuSans-32" transform="translate(75.195312 0)"/><use href="#DejaVuSans-4f" transform="translate(138.818359 0)"/><use href="#DejaVuSans-5f" transform="translate(217.529297 0)"/><use href="#DejaVuSans-64" transform="translate(267.529297 0)"/><use href="#DejaVuSans-65" transform="translate(331.005859 0)"/><use href="#DejaVuSans-63" transform="translate(392.529297 0)"/><use href="#DejaVuSans-6f" transform="translate(447.509766 0)"/><use href="#DejaVuSans-6d" transform="translate(508.691406 0)"/><use href="#DejaVuSans-70" transform="translate(606.103516 0)"/><use href="#DejaVuSans-6f" transform="translate(669.580078 0)"/><use href="#DejaVuSans-73" transform="translate(730.761719 0)"/><use href="#DejaVuSans-69" transform="translate(782.861328 0)"/><use href="#DejaVuSans-74" transform="translate(810.644531 0)"/><use href="#DejaVuSans-69" transform="translate(849.853516 0)"/><use href="#DejaVuSans-6f" transform="translate(877.636719 0)"/><use href="#DejaVuSans-6e" transform="translate(938.818359 0)"/></g></g></g><g id="ytick_7"><g id="line2d_53"><g></g></g><g id="text_12"><!-- OH_decomposition --><g transform="translate(54.659062 229.756819) scale(0.1 -0.1)"><use href="#DejaVuSans-4f"/><use href="#DejaVuSans-48" transform="translate(78.710938 0)"/><use href="#DejaVuSans-5f" transform="translate(153.90625 0)"/><use href="#DejaVuSans-64" transform="translate(203.90625 0)"/><use href="#DejaVuSans-65" transform="translate(267.382812 0)"/><use href="#DejaVuSans-63" transform="translate(328.90625 0)"/><use href="#DejaVuSans-6f" transform="translate(383.886719 0)"/><use href="#DejaVuSans-6d" transform="translate(445.068359 0)"/><use href="#DejaVuSans-70" transform="translate(542.480469 0)"/><use href="#DejaVuSans-6f" transform="translate(605.957031 0)"/><use href="#DejaVuSans-73" transform="translate(667.138672 0)"/><use href="#DejaVuSans-69" transform="translate(719.238281 0)"/><use href="#DejaVuSans-74" transform="translate(747.021484 0)"/><use href="#DejaVuSans-69" transform="translate(786.230469 0)"/><use href="#DejaVuSans-6f" transform="translate(814.013672 0)"/><use href="#DejaVuSans-6e" transform="translate(875.195312 0)"/></g></g></g><g id="ytick_8"><g id="line2d_54"><g></g></g><g id="text_13"><!-- OH_OH_disproportionation --><g transform="translate(16.030937 251.630419) scale(0.1 -0.1)"><use href="#DejaVuSans-4f"/><use href="#DejaVuSans-48" transform="translate(78.710938 0)"/><use href="#DejaVuSans-5f" transform="translate(153.90625 0)"/><use href="#DejaVuSans-4f" transform="translate(203.90625 0)"/><use href="#DejaVuSans-48" transform="translate(282.617188 0)"/><use href="#DejaVuSans-5f" transform="translate(357.8125 0)"/><use href="#DejaVuSans-64" transform="translate(407.8125 0)"/><use href="#DejaVuSans-69" transform="translate(471.289062 0)"/><use href="#DejaVuSans-73" transform="translate(499.072266 0)"/><use href="#DejaVuSans-70" transform="translate(551.171875 0)"/><use href="#DejaVuSans-72" transform="translate(614.648438 0)"/><use href="#DejaVuSans-6f" transform="translate(653.511719 0)"/><use href="#DejaVuSans-70" transform="translate(714.693359 0)"/><use href="#DejaVuSans-6f" transform="translate(778.169922 0)"/><use href="#DejaVuSans-72" transform="translate(839.351562 0)"/><use href="#DejaVuSans-74" transform="translate(880.464844 0)"/><use href="#DejaVuSans-69" transform="translate(919.673828 0)"/><use href="#DejaVuSans-6f" transform="translate(947.457031 0)"/><use href="#DejaVuSans-6e" transform="translate(1008.638672 0)"/><use href="#DejaVuSans-61" transform="translate(1072.017578 0)"/><use href="#DejaVuSans-74" transform="translate(1133.296875 0)"/><use href="#DejaVuSans-69" transform="translate(1172.505859 0)"/><use href="#DejaVuSans-6f" transform="translate(1200.289062 0)"/><use href="#DejaVuSans-6e" transform="translate(1261.470703 0)"/></g></g></g><g id="ytick_9"><g id="line2d_55"><g></g></g><g id="text_14"><!-- CO_OH_disproportionation --><g transform="translate(16.568437 273.504019) scale(0.1 -0.1)"><use href="#DejaVuSans-43"/><use href="#DejaVuSans-4f" transform="translate(69.824219 0)"/><use href="#DejaVuSans-5f" transform="translate(148.535156 0)"/><use href="#DejaVuSans-4f" transform="translate(198.535156 0)"/><use href="#DejaVuSans-48" transform="translate(277.246094 0)"/><use href="#DejaVuSans-5f" transform="translate(352.441406 0)"/><use href="#DejaVuSans-64" transform="translate(402.441406 0)"/><use href="#DejaVuSans-69" transform="translate(465.917969 0)"/><use href="#DejaVuSans-73" transform="translate(493.701172 0)"/><use href="#DejaVuSans-70" transform="translate(545.800781 0)"/><use href="#DejaVuSans-72" transform="translate(609.277344 0)"/><use href="#DejaVuSans-6f" transform="translate(648.140625 0)"/><use href="#DejaVuSans-70" transform="translate(709.322266 0)"/><use href="#DejaVuSans-6f" transform="translate(772.798828 0)"/><use href="#DejaVuSans-72" transform="translate(833.980469 0)"/><use href="#DejaVuSans-74" transform="translate(875.09375 0)"/><use href="#DejaVuSans-69" transform="translate(914.302734 0)"/><use href="#DejaVuSans-6f" transform="translate(942.085938 0)"/><use href="#DejaVuSans-6e" transform="translate(1003.267578 0)"/><use href="#DejaVuSans-61" transform="translate(1066.646484 0)"/><use href="#DejaVuSans-74" transform="translate(1127.925781 0)"/><use href="#DejaVuSans-69" transform="translate(1167.134766 0)"/><use href="#DejaVuSans-6f" transform="translate(1194.917969 0)"/><use href="#DejaVuSans-6e" transform="translate(1256.099609 0)"/></g></g></g><g id="ytick_10"><g id="line2d_56"><g></g></g><g id="text_15"><!-- COOH_decomposition --><g transform="translate(39.804375 295.377619) scale(0.1 -0.1)"><use href="#DejaVuSans-43"/><use href="#DejaVuSans-4f" transform="translate(69.824219 0)"/><use href="#DejaVuSans-4f" transform="translate(148.535156 0)"/><use href="#DejaVuSans-48" transform="translate(227.246094 0)"/><use href="#DejaVuSans-5f" transform="translate(302.441406 0)"/><use href="#DejaVuSans-64" transform="translate(352.441406 0)"/><use href="#DejaVuSans-65" transform="translate(415.917969 0)"/><use href="#DejaVuSans-63" transform="translate(477.441406 0)"/><use href="#DejaVuSans-6f" transform="translate(532.421875 0)"/><use href="#DejaVuSans-6d" transform="translate(593.603516 0)"/><use href="#DejaVuSans-70" transform="translate(691.015625 0)"/><use href="#DejaVuSans-6f" transform="translate(754.492188 0)"/><use href="#DejaVuSans-73" transform="translate(815.673828 0)"/><use href="#DejaVuSans-69" transform="translate(867.773438 0)"/><use href="#DejaVuSans-74" transform="translate(895.556641 0)"/><use href="#DejaVuSans-69" transform="translate(934.765625 0)"/><use href="#DejaVuSans-6f" transform="translate(962.548828 0)"/><use href="#DejaVuSans-6e" transform="translate(1023.730469 0)"/></g></g></g></g><g id="ttl"><!-- $t\in[0.00, 1.99]$ --><g transform="translate(279.6 70.68) scale(0.12 -0.12)"><defs><path id="DejaVuSans-Oblique-74" d="M 2706 3500 L 2619 3053 L 1472 3053 L 1100 1153 Q 1081 1047 1072 975 Q 1063 903 1063 863 Q 1063 663 1183 572 Q 1303 481 1569 481 L 2150 481 L 2053 0 L 1503 0 Q 991 0 739 200 Q 488 400 488 806 Q 488 878 497 964 Q 506 1050 525 1153 L 897 3053 L 409 3053 L 500 3500 L 978 3500 L 1172 4494 L 1747 4494 L 1556 3500 L 2706 3500 z " transform="scale(0.015625)"/><path id="DejaVuSans-2208" d="M 1072 1959 Q 1094 1728 1291 1353 Q 1522 919 1959 675 Q 2388 438 2850 434 L 5028 434 L 5028 -63 L 2850 -63 Q 2250 -63 1695 246 Q 1141 556 844 1106 Q 547 1656 547 2241 Q 547 2819 844 3369 Q 1141 3919 1695 4231 Q 2250 4544 2850 4544 L 5028 4544 L 5028 4047 L 2850 4047 Q 2388 4044 1959 3803 Q 1525 3556 1291 3125 Q 1091 2750 1063 2459 L 5028 2459 L 5028 1959 L 1072 1959 z " transform="scale(0.015625)"/><path id="DejaVuSans-5b" d="M 550 4863 L 1875 4863 L 1875 4416 L 1125 4416 L 1125 -397 L 1875 -397 L 1875 -844 L 550 -844 L 550 4863 z " transform="scale(0.015625)"/><path id="DejaVuSans-2e" d="M 684 794 L 1344 794 L 1344 0 L 684 0 L 684 794 z " transform="scale(0.015625)"/><path id="DejaVuSans-2c" d="M 750 794 L 1409 794 L 1409 256 L 897 -744 L 494 -744 L 750 256 L 750 794 z " transform="scale(0.015625)"/><path id="DejaVuSans-39" d="M 703 97 L 703 672 Q 941 559 1184 500 Q 1428 441 1663 441 Q 2288 441 2617 861 Q 2947 1281 2994 2138 Q 2813 1869 2534 1725 Q 2256 1581 1919 1581 Q 1219 1581 811 2004 Q 403 2428 403 3163 Q 403 3881 828 4315 Q 1253 4750 1959 4750 Q 2769 4750 3195 4129 Q 3622 3509 3622 2328 Q 3622 1225 3098 567 Q 2575 -91 1691 -91 Q 1453 -91 1209 -44 Q 966 3 703 97 z M 1959 2075 Q 2384 2075 2632 2365 Q 2881 2656 2881 3163 Q 2881 3666 2632 3958 Q 2384 4250 1959 4250 Q 1534 4250 1286 3958 Q 1038 3666 1038 3163 Q 1038 2656 1286 2365 Q 1534 2075 1959 2075 z " transform="scale(0.015625)"/><path id="DejaVuSans-5d" d="M 1947 4863 L 1947 -844 L 622 -844 L 622 -397 L 1369 -397 L 1369 4416 L 622 4416 L 622 4863 L 1947 4863 z " transform="scale(0.015625)"/></defs><use href="#DejaVuSans-Oblique-74" transform="translate(0 0.015625)"/><use href="#DejaVuSans-2208" transform="translate(58.691406 0.015625)"/><use href="#DejaVuSans-5b" transform="translate(165.283203 0.015625)"/><use href="#DejaVuSans-30" transform="translate(204.296875 0.015625)"/><use href="#DejaVuSans-2e" transform="translate(267.919922 0.015625)"/><use href="#DejaVuSans-30" transform="translate(299.707031 0.015625)"/><use href="#DejaVuSans-30" transform="translate(363.330078 0.015625)"/><use href="#DejaVuSans-2c" transform="translate(426.953125 0.015625)"/><use href="#DejaVuSans-31" transform="translate(478.222656 0.015625)"/><use href="#DejaVuSans-2e" transform="translate(541.845703 0.015625)"/><use href="#DejaVuSans-39" transform="translate(573.632812 0.015625)"/><use href="#DejaVuSans-39" transform="translate(637.255859 0.015625)"/><use href="#DejaVuSans-5d" transform="translate(700.878906 0.015625)"/></g></g></g><g id="text_16"><!-- fwd --><g transform="translate(529.416 172.728) scale(0.1 -0.1)"><defs><path id="DejaVuSans-66" d="M 2375 4863 L 2375 4384 L 1825 4384 Q 1516 4384 1395 4259 Q 1275 4134 1275 3809 L 1275 3500 L 2222 3500 L 2222 3053 L 1275 3053 L 1275 0 L 697 0 L 697 3053 L 147 3053 L 147 3500 L 697 3500 L 697 3744 Q 697 4328 969 4595 Q 1241 4863 1831 4863 L 2375 4863 z " transform="scale(0.015625)"/><path id="DejaVuSans-77" d="M 269 3500 L 844 3500 L 1563 769 L 2278 3500 L 2956 3500 L 3675 769 L 4391 3500 L 4966 3500 L 4050 0 L 3372 0 L 2619 2869 L 1863 0 L 1184 0 L 269 3500 z " transform="scale(0.015625)"/></defs><use href="#DejaVuSans-66"/><use href="#DejaVuSans-77" transform="translate(33.455078 0)"/><use href="#DejaVuSans-64" transform="translate(115.242188 0)"/></g></g><g id="text_17"><!-- rev --><g transform="translate(529.416 187.848) scale(0.1 -0.1)"><use href="#DejaVuSans-72"/><use href="#DejaVuSans-65" transform="translate(38.863281 0)"/><use href="#DejaVuSans-76" transform="translate(100.386719 0)"/></g></g><g id="text_18"><!-- net-fwd --><g transform="translate(529.416 202.968) scale(0.1 -0.1)"><defs><path id="DejaVuSans-2d" d="M 313 2009 L 1997 2009 L 1997 1497 L 313 1497 L 313 2009 z " transform="scale(0.015625)"/></defs><use href="#DejaVuSans-6e"/><use href="#DejaVuSans-65" transform="translate(63.378906 0)"/><use href="#DejaVuSans-74" transform="translate(124.902344 0)"/><use href="#DejaVuSans-2d" transform="translate(164.111328 0)"/><use href="#DejaVuSans-66" transform="translate(200.195312 0)"/><use href="#DejaVuSans-77" transform="translate(233.650391 0)"/><use href="#DejaVuSans-64" transform="translate(315.4375 0)"/></g></g><g id="text_19"><!-- net-rev --><g transform="translate(529.416 218.088) scale(0.1 -0.1)"><use href="#DejaVuSans-6e"/><use href="#DejaVuSans-65" transform="translate(63.378906 0)"/><use href="#DejaVuSans-74" transform="translate(124.902344 0)"/><use href="#DejaVuSans-2d" transform="translate(164.111328 0)"/><use href="#DejaVuSans-72" transform="translate(200.195312 0)"/><use href="#DejaVuSans-65" transform="translate(239.058594 0)"/><use href="#DejaVuSans-76" transform="translate(300.582031 0)"/></g></g></g></svg>
<div id="menu">
<div class="t" style="left:23px;top:5.8px;font-size:12px">Plot style</div>
<div class="t" style="left:23px;top:25px;font-size:12px;letter-spacing:-0.22px">Events displayed</div>
<div class="t" style="left:23px;top:43.8px;font-size:12px">Normalization</div>
<div class="t" style="left:23px;top:62.8px;font-size:12px">Axis limits</div>
</div>
<!-- bottom panel -->
<div class="a" style="left:0;top:480px;width:800px;height:77px;background:#f0f0f0"></div>
<div class="a" style="left:0;top:557px;width:800px;height:3px;background:#fafafa"></div>
<div class="t" style="left:549.5px;top:488.6px;font-size:11.5px">200</div>
<div class="a" style="left:13px;top:504px;width:562px;height:17px;background:#dadada;border-style:solid;border-width:1px;border-color:#a0a0a0 #fff #fff #a0a0a0"></div>
<div class="a" style="left:544px;top:505px;width:30px;height:15px;background:#ececec;border-style:solid;border-width:2px;border-color:#fff #000 #000 #fff"></div>
<div class="a" style="left:558px;top:506px;width:1px;height:12px;background:#000"></div>
<div class="a" style="left:559px;top:506px;width:1px;height:12px;background:#fff"></div>
<div class="t" style="left:613px;top:486px;font-size:12px">Skip configurations:</div>
<div class="a" style="left:599px;top:509px;width:10px;height:10px;background:#fff;border-style:solid;border-width:1px;border-color:#a0a0a0 #fff #fff #a0a0a0"></div>
<div class="t" style="left:614px;top:509.6px;font-size:11.9px">Use sliding horizon:</div>
<!-- spinboxes -->
<div class="a" style="left:739px;top:482px;width:51px;height:19px;background:#fff;border-style:solid;border-width:1px;border-color:#a0a0a0 #fff #fff #a0a0a0"></div>
<div class="t" style="left:740.6px;top:485px;font-size:13px">0</div>
<div class="a" style="left:778px;top:483px;width:11px;height:8px;background:#f0f0f0;border-right:1px solid #000;border-bottom:1px solid #000"></div>
<div class="a" style="left:778px;top:491px;width:11px;height:8px;background:#f0f0f0;border-right:1px solid #000;border-bottom:1px solid #000"></div>
<svg class="a" style="left:779px;top:484px" width="9" height="14" viewBox="0 0 9 14"><path d="M1.5 4.5L4.5 1.5L7.5 4.5Z M1.5 9.5L4.5 12.5L7.5 9.5Z" fill="#000"/></svg>
<div class="a" style="left:739px;top:505px;width:51px;height:19px;background:#f0f0f0;border-style:solid;border-width:1px;border-color:#a0a0a0 #fff #fff #a0a0a0"></div>
<div class="t" style="left:740.6px;top:508px;font-size:13px;color:#6d6d6d">1</div>
<div class="a" style="left:778px;top:506px;width:11px;height:8px;background:#f0f0f0;border-right:1px solid #000;border-bottom:1px solid #000"></div>
<div class="a" style="left:778px;top:514px;width:11px;height:8px;background:#f0f0f0;border-right:1px solid #000;border-bottom:1px solid #000"></div>
<svg class="a" style="left:779px;top:507px" width="9" height="14" viewBox="0 0 9 14"><path d="M1.5 4.5L4.5 1.5L7.5 4.5Z M1.5 9.5L4.5 12.5L7.5 9.5Z" fill="#6d6d6d"/></svg>
<!-- toolbar -->
<div class="btn" style="left:2px"><svg width="24" height="24" viewBox="0 0 72 72"><path d="M 57.860938 45.94 C 57.860938 45.865625 57.860938 45.79125 57.818438 45.716875 L 35.994687 27.72875 L 14.181562 45.716875 C 14.181562 45.79125 14.139062 45.865625 14.139062 45.94 L 14.139062 64.15125 C 14.139062 65.479375 15.244062 66.584375 16.572187 66.584375 L 31.139063 66.584375 L 31.139063 52.0175 L 40.860938 52.0175 L 40.860938 66.584375 L 55.427813 66.584375 C 56.755938 66.584375 57.860938 65.479375 57.860938 64.15125 z M 66.318438 43.32625 C 66.732813 42.826875 66.658438 42.03 66.169688 41.615625 L 57.860938 34.709375 L 57.860938 19.22875 C 57.860938 18.54875 57.329688 18.0175 56.639063 18.0175 L 49.360938 18.0175 C 48.670312 18.0175 48.139062 18.54875 48.139062 19.22875 L 48.139062 26.62375 L 38.884687 18.88875 C 37.290937 17.560625 34.709063 17.560625 33.115313 18.88875 L 5.830312 41.615625 C 5.341562 42.03 5.267187 42.826875 5.681562 43.32625 L 8.029687 46.13125 C 8.220937 46.354375 8.529062 46.51375 8.826562 46.545625 C 9.166562 46.588125 9.474687 46.47125 9.740312 46.28 L 35.994687 24.3925 L 62.259687 46.28 C 62.482813 46.47125 62.748438 46.545625 63.056562 46.545625 C 63.088437 46.545625 63.130938 46.545625 63.173438 46.545625 C 63.470938 46.51375 63.779063 46.354375 63.970313 46.13125 z"/></svg></div>
<div class="btn" style="left:32px"><svg width="24" height="24" viewBox="0 0 72 72"><path d="M 65.144375 35.006875 C 65.144375 32.425 63.43375 30.15125 60.703125 30.15125 L 33.991875 30.15125 L 45.105625 19.0375 C 46.019375 18.12375 46.550625 16.87 46.550625 15.584375 C 46.550625 14.288125 46.019375 13.034375 45.105625 12.13125 L 42.258125 9.315625 C 41.344375 8.4125 40.133125 7.88125 38.8475 7.88125 C 37.55125 7.88125 36.2975 8.4125 35.394375 9.315625 L 10.69125 33.986875 C 9.82 34.900625 9.28875 36.14375 9.28875 37.44 C 9.28875 38.725625 9.82 39.979375 10.69125 40.850625 L 35.394375 65.59625 C 36.2975 66.4675 37.55125 66.99875 38.8475 66.99875 C 40.133125 66.99875 41.386875 66.4675 42.258125 65.59625 L 45.105625 62.70625 C 46.019375 61.835 46.550625 60.58125 46.550625 59.295625 C 46.550625 58.01 46.019375 56.75625 45.105625 55.885 L 33.991875 44.72875 L 60.703125 44.72875 C 63.43375 44.72875 65.144375 42.444375 65.144375 39.8625 z"/></svg></div>
<div class="btn" style="left:62px"><svg width="24" height="24" viewBox="0 0 72 72"><path d="M 62.71125 37.44 C 62.71125 36.14375 62.2225 34.900625 61.30875 34.01875 L 36.605625 9.315625 C 35.691875 8.4125 34.438125 7.88125 33.1525 7.88125 C 31.866875 7.88125 30.645 8.4125 29.741875 9.315625 L 26.894375 12.163125 C 25.980625 13.034375 25.449375 14.288125 25.449375 15.584375 C 25.449375 16.87 25.980625 18.12375 26.894375 18.995 L 38.008125 30.15125 L 11.296875 30.15125 C 8.56625 30.15125 6.855625 32.425 6.855625 35.006875 L 6.855625 39.8625 C 6.855625 42.444375 8.56625 44.72875 11.296875 44.72875 L 38.008125 44.72875 L 26.894375 55.8425 C 25.980625 56.75625 25.449375 58.01 25.449375 59.295625 C 25.449375 60.58125 25.980625 61.835 26.894375 62.74875 L 29.741875 65.59625 C 30.645 66.4675 31.866875 66.99875 33.1525 66.99875 C 34.438125 66.99875 35.691875 66.4675 36.605625 65.59625 L 61.30875 40.893125 C 62.2225 39.979375 62.71125 38.725625 62.71125 37.44"/></svg></div>
<div class="sep" style="left:97px"></div>
<div class="btn" style="left:103px"><svg width="24" height="24" viewBox="0 0 72 72"><path d="M 70 37.44 C 70 36.8025 69.734375 36.18625 69.2775 35.74 L 59.56625 26.018125 C 59.109375 25.56125 58.50375 25.295625 57.855625 25.295625 C 56.5275 25.295625 55.433125 26.400625 55.433125 27.72875 L 55.433125 32.584375 L 40.855625 32.584375 L 40.855625 18.0175 L 45.71125 18.0175 C 47.039375 18.0175 48.144375 16.9125 48.144375 15.584375 C 48.144375 14.93625 47.87875 14.330625 47.421875 13.87375 L 37.710625 4.1625 C 37.25375 3.705625 36.648125 3.44 36 3.44 C 35.351875 3.44 34.74625 3.705625 34.289375 4.1625 L 24.578125 13.87375 C 24.12125 14.330625 23.855625 14.93625 23.855625 15.584375 C 23.855625 16.9125 24.960625 18.0175 26.28875 18.0175 L 31.144375 18.0175 L 31.144375 32.584375 L 16.566875 32.584375 L 16.566875 27.72875 C 16.566875 26.400625 15.4725 25.295625 14.144375 25.295625 C 13.49625 25.295625 12.890625 25.56125 12.43375 26.018125 L 2.7225 35.74 C 2.265625 36.18625 2 36.8025 2 37.44 C 2 38.088125 2.265625 38.69375 2.7225 39.150625 L 12.43375 48.861875 C 12.890625 49.31875 13.49625 49.584375 14.144375 49.584375 C 15.4725 49.584375 16.566875 48.49 16.566875 47.161875 L 16.566875 42.295625 L 31.144375 42.295625 L 31.144375 56.873125 L 26.28875 56.873125 C 24.960625 56.873125 23.855625 57.9675 23.855625 59.295625 C 23.855625 59.94375 24.12125 60.549375 24.578125 61.00625 L 34.289375 70.7175 C 34.74625 71.174375 35.351875 71.44 36 71.44 C 36.648125 71.44 37.25375 71.174375 37.710625 70.7175 L 47.421875 61.00625 C 47.87875 60.549375 48.144375 59.94375 48.144375 59.295625 C 48.144375 57.9675 47.039375 56.873125 45.71125 56.873125 L 40.855625 56.873125 L 40.855625 42.295625 L 55.433125 42.295625 L 55.433125 47.161875 C 55.433125 48.49 56.5275 49.584375 57.855625 49.584375 C 58.50375 49.584375 59.109375 49.31875 59.56625 48.861875 L 69.2775 39.150625 C 69.734375 38.69375 70 38.088125 70 37.44"/></svg></div>
<div class="btn" style="left:133px"><svg width="24" height="24" viewBox="0 0 72 72"><path d="M 48.139062 32.589687 C 48.139062 41.960938 40.510312 49.589687 31.139063 49.589687 C 21.767812 49.589687 14.139062 41.960938 14.139062 32.589687 C 14.139062 23.218437 21.767812 15.589687 31.139063 15.589687 C 40.510312 15.589687 48.139062 23.218437 48.139062 32.589687 M 67.572187 64.156562 C 67.572187 62.870937 67.040937 61.617188 66.169688 60.745937 L 53.154062 47.730312 C 56.224688 43.289062 57.860938 37.976562 57.860938 32.589687 C 57.860938 17.820937 45.907813 5.867812 31.139063 5.867812 C 16.380937 5.867812 4.427812 17.820937 4.427812 32.589687 C 4.427812 47.347812 16.380937 59.300937 31.139063 59.300937 C 36.525937 59.300937 41.838437 57.664687 46.279687 54.594062 L 59.295313 67.577812 C 60.166562 68.480937 61.420313 69.012187 62.716563 69.012187 C 65.372813 69.012187 67.572187 66.812812 67.572187 64.156562"/></svg></div>
<div class="btn" style="left:163px"><svg width="24" height="24" viewBox="0 0 72 72"><path d="M 20.21125 56.873125 L 6.855625 56.873125 L 6.855625 61.72875 L 20.21125 61.72875 z M 33.566875 52.0175 L 23.855625 52.0175 C 22.5275 52.0175 21.4225 53.111875 21.4225 54.44 L 21.4225 64.161875 C 21.4225 65.49 22.5275 66.584375 23.855625 66.584375 L 33.566875 66.584375 C 34.895 66.584375 36 65.49 36 64.161875 L 36 54.44 C 36 53.111875 34.895 52.0175 33.566875 52.0175 M 39.644375 37.44 L 6.855625 37.44 L 6.855625 42.295625 L 39.644375 42.295625 z M 15.355625 18.0175 L 6.855625 18.0175 L 6.855625 22.873125 L 15.355625 22.873125 z M 65.144375 56.873125 L 37.21125 56.873125 L 37.21125 61.72875 L 65.144375 61.72875 z M 28.71125 13.161875 L 19 13.161875 C 17.671875 13.161875 16.566875 14.25625 16.566875 15.584375 L 16.566875 25.295625 C 16.566875 26.62375 17.671875 27.72875 19 27.72875 L 28.71125 27.72875 C 30.039375 27.72875 31.144375 26.62375 31.144375 25.295625 L 31.144375 15.584375 C 31.144375 14.25625 30.039375 13.161875 28.71125 13.161875 M 53 32.584375 L 43.28875 32.584375 C 41.960625 32.584375 40.855625 33.689375 40.855625 35.0175 L 40.855625 44.72875 C 40.855625 46.056875 41.960625 47.161875 43.28875 47.161875 L 53 47.161875 C 54.328125 47.161875 55.4225 46.056875 55.4225 44.72875 L 55.4225 35.0175 C 55.4225 33.689375 54.328125 32.584375 53 32.584375 M 65.144375 37.44 L 56.644375 37.44 L 56.644375 42.295625 L 65.144375 42.295625 z M 65.144375 18.0175 L 32.355625 18.0175 L 32.355625 22.873125 L 65.144375 22.873125 z"/></svg></div>
<div class="sep" style="left:198px"></div>
<div class="btn" style="left:204px"><svg width="24" height="24" viewBox="0 0 72 72"><path d="M 21.4225 61.72875 L 21.4225 47.161875 L 50.566875 47.161875 L 50.566875 61.72875 z M 55.4225 61.72875 L 55.4225 45.94 C 55.4225 43.931875 53.796875 42.295625 51.78875 42.295625 L 20.21125 42.295625 C 18.203125 42.295625 16.566875 43.931875 16.566875 45.94 L 16.566875 61.72875 L 11.71125 61.72875 L 11.71125 13.161875 L 16.566875 13.161875 L 16.566875 28.94 C 16.566875 30.95875 18.203125 32.584375 20.21125 32.584375 L 42.066875 32.584375 C 44.085625 32.584375 45.71125 30.95875 45.71125 28.94 L 45.71125 13.161875 C 46.47625 13.161875 47.953125 13.7675 48.484375 14.29875 L 59.14125 24.955625 C 59.640625 25.455 60.28875 27.00625 60.28875 27.72875 L 60.28875 61.72875 z M 40.855625 26.5175 C 40.855625 27.155 40.281875 27.72875 39.644375 27.72875 L 32.355625 27.72875 C 31.7075 27.72875 31.144375 27.155 31.144375 26.5175 L 31.144375 14.373125 C 31.144375 13.725 31.7075 13.161875 32.355625 13.161875 L 39.644375 13.161875 C 40.281875 13.161875 40.855625 13.725 40.855625 14.373125 z M 65.144375 27.72875 C 65.144375 25.720625 64.0075 22.9475 62.5625 21.5025 L 51.9375 10.8775 C 50.4925 9.443125 47.719375 8.295625 45.71125 8.295625 L 10.5 8.295625 C 8.491875 8.295625 6.855625 9.931875 6.855625 11.94 L 6.855625 62.94 C 6.855625 64.95875 8.491875 66.584375 10.5 66.584375 L 61.5 66.584375 C 63.508125 66.584375 65.144375 64.95875 65.144375 62.94 z"/></svg></div>
<!-- taskbar -->
<div class="a" style="left:0;top:560px;width:800px;height:40px;background:#0e0e0e"></div>

<svg class="a" style="left:15px;top:571px" width="18" height="18" viewBox="0 0 18 18"><path d="M0.6 2.6L6.7 1.8V8.3H0.6Z M7.7 1.7L17.4 0.4V8.3H7.7Z M0.6 9.3H6.7V15.8L0.6 15Z M7.7 9.3H17.4V17.6L7.7 16.3Z" fill="#fff"/></svg>
<svg class="a" style="left:59px;top:567px" width="24" height="25" viewBox="0 0 24 25">
<defs><linearGradient id="ffa" x1="0.9" y1="0.1" x2="0.2" y2="0.95"><stop offset="0" stop-color="#ffe83f"/><stop offset="0.35" stop-color="#ff9a2e"/><stop offset="0.7" stop-color="#ff4840"/><stop offset="1" stop-color="#f0157f"/></linearGradient>
<radialGradient id="ffb" cx="0.45" cy="0.55" r="0.6"><stop offset="0" stop-color="#6a3ce0"/><stop offset="1" stop-color="#9a55ff"/></radialGradient></defs>
<path d="M15 1C17 4 21.5 7 22.6 12.5C23.5 19 18.5 24 12 24C5.5 24 1 19.5 1 13.5C1 10 2.4 7.5 4 5.5C4.2 7 4.8 8 5.5 8.5C6 7 6.8 6 8 5.5C8 6.5 8.3 7.2 9 7.5C10.5 5.5 13 4.5 15 1Z" fill="url(#ffa)"/>
<circle cx="11.6" cy="13" r="5" fill="url(#ffb)"/>
<path d="M4.5 9.5C6 8 9 7.5 11 8.5C13 8 15 9 16 10.5C14 9.8 12.5 10.5 11.5 11.5C10 10 8 10.5 7 12C6 11 5 10.5 4.5 9.5Z" fill="#ff9b2f"/>
</svg>
<svg class="a" style="left:100px;top:567px" width="26" height="26" viewBox="0 0 26 26">
<defs><linearGradient id="tba" x1="0.15" y1="0.1" x2="0.9" y2="0.9"><stop offset="0" stop-color="#45b0fa"/><stop offset="0.5" stop-color="#2f72e6"/><stop offset="1" stop-color="#3d3fc8"/></linearGradient>
<linearGradient id="tbb" x1="0" y1="0" x2="0" y2="1"><stop offset="0" stop-color="#3a2fb0"/><stop offset="1" stop-color="#2a1f90"/></linearGradient></defs>
<circle cx="13" cy="12.6" r="11.6" fill="url(#tba)"/>
<path d="M2 14C3 19 7 22.5 12 23.5C8 21 5.5 18 5 15Z" fill="url(#tbb)"/>
<path d="M2.6 8.6L16.2 9.4L17.6 21.8L3 17.6Z" fill="#f8f8fb"/>
<path d="M3 9.2L9.6 14.4L16 10" fill="none" stroke="#c0c8dc" stroke-width="0.7"/>
<path d="M4 8.8C5 5.6 7.6 3.8 10.6 4.4C9 5.4 8.6 7 9.2 8.9Z" fill="#5cc0fb"/>
<circle cx="7.6" cy="6.6" r="0.7" fill="#c77a2a"/>
</svg>
<div class="tb" style="left:135px;width:77px;background:#202020"><div class="ul" style="left:0;width:77px"></div></div>
<svg class="a" style="left:144px;top:570px" width="15" height="21" viewBox="0 0 15 21"><path d="M0.5 1L5.5 0.5V2.6H14V17.2H5.5V20.6L0.5 19.5Z" fill="#f5d372"/><path d="M0.5 1L5.5 2.6V20.6L0.5 19.5Z" fill="#e4b54c"/></svg>
<div class="tbt" style="left:169.5px;top:574.3px;font-size:11.3px">101</div>
<div class="ul" style="left:217px;top:598px;width:70px;height:2px"></div>
<svg class="a" style="left:219px;top:570px" width="23" height="19" viewBox="0 0 23 19"><defs><linearGradient id="cw" x1="0" y1="0" x2="0.3" y2="1"><stop offset="0" stop-color="#3d6fb8"/><stop offset="1" stop-color="#4fb35a"/></linearGradient><linearGradient id="cw2" x1="0" y1="0" x2="0" y2="1"><stop offset="0" stop-color="#2f5fb0"/><stop offset="1" stop-color="#52c05a"/></linearGradient></defs><rect x="0" y="0" width="22.5" height="18.8" fill="#f3f4f6"/><rect x="0" y="0" width="22.5" height="2.5" fill="#e6e9ee"/><rect x="2.4" y="4" width="8.6" height="11.6" fill="url(#cw)"/><rect x="13" y="4.5" width="4.2" height="1.4" fill="#cfd2d6"/><rect x="13" y="7.5" width="4.2" height="1.4" fill="#cfd2d6"/><rect x="13" y="10.5" width="4.2" height="1.4" fill="#cfd2d6"/><rect x="13" y="14.5" width="4.2" height="1" fill="#cfd2d6"/><rect x="19" y="4" width="1.4" height="7.5" fill="url(#cw2)"/></svg>
<div class="tbt" style="left:247px;top:574px">C:\Us...</div>
<div class="ul" style="left:295px;top:598px;width:69px;height:2px"></div>
<div class="a" style="left:297px;top:568px"><svg width="24" height="24" viewBox="0 0 16 16"><circle cx="8.3" cy="8" r="4.2" fill="#2f7cf2"/><path d="M5.8 8L9.2 5.8L10 6.4L8.8 8L10 9.6L9.2 10.2Z" fill="#8a3be8"/><circle cx="10.40" cy="8.00" r="0.9" fill="#0e0e0e"/><circle cx="7.25" cy="6.18" r="0.9" fill="#0e0e0e"/><circle cx="7.25" cy="9.82" r="0.9" fill="#0e0e0e"/><circle cx="8.00" cy="1.00" r="1.25" fill="#f5222d"/><circle cx="9.21" cy="2.74" r="0.95" fill="#fdb42a"/><circle cx="6.79" cy="2.74" r="0.95" fill="#fdb42a"/><circle cx="1.94" cy="4.50" r="1.25" fill="#f5222d"/><circle cx="4.05" cy="4.32" r="0.95" fill="#fdb42a"/><circle cx="2.84" cy="6.42" r="0.95" fill="#fdb42a"/><circle cx="1.94" cy="11.50" r="1.25" fill="#f5222d"/><circle cx="2.84" cy="9.58" r="0.95" fill="#fdb42a"/><circle cx="4.05" cy="11.68" r="0.95" fill="#fdb42a"/><circle cx="8.00" cy="15.00" r="1.25" fill="#f5222d"/><circle cx="6.79" cy="13.26" r="0.95" fill="#fdb42a"/><circle cx="9.21" cy="13.26" r="0.95" fill="#fdb42a"/><circle cx="14.06" cy="11.50" r="1.25" fill="#f5222d"/><circle cx="11.95" cy="11.68" r="0.95" fill="#fdb42a"/><circle cx="13.16" cy="9.58" r="0.95" fill="#fdb42a"/><circle cx="14.06" cy="4.50" r="1.25" fill="#f5222d"/><circle cx="13.16" cy="6.42" r="0.95" fill="#fdb42a"/><circle cx="11.95" cy="4.32" r="0.95" fill="#fdb42a"/></svg></div>
<div class="tbt" style="left:325px;top:574.3px;font-size:12.3px;letter-spacing:-0.2px">Zacr...</div>
<div class="tb" style="left:368px;width:78px;background:#383838"><div class="ul" style="left:0;width:78px"></div></div>
<div class="a" style="left:374px;top:568px"><svg width="24" height="24" viewBox="0 0 16 16"><circle cx="8.3" cy="8" r="4.2" fill="#2f7cf2"/><path d="M5.8 8L9.2 5.8L10 6.4L8.8 8L10 9.6L9.2 10.2Z" fill="#8a3be8"/><circle cx="10.40" cy="8.00" r="0.9" fill="#383838"/><circle cx="7.25" cy="6.18" r="0.9" fill="#383838"/><circle cx="7.25" cy="9.82" r="0.9" fill="#383838"/><circle cx="8.00" cy="1.00" r="1.25" fill="#f5222d"/><circle cx="9.21" cy="2.74" r="0.95" fill="#fdb42a"/><circle cx="6.79" cy="2.74" r="0.95" fill="#fdb42a"/><circle cx="1.94" cy="4.50" r="1.25" fill="#f5222d"/><circle cx="4.05" cy="4.32" r="0.95" fill="#fdb42a"/><circle cx="2.84" cy="6.42" r="0.95" fill="#fdb42a"/><circle cx="1.94" cy="11.50" r="1.25" fill="#f5222d"/><circle cx="2.84" cy="9.58" r="0.95" fill="#fdb42a"/><circle cx="4.05" cy="11.68" r="0.95" fill="#fdb42a"/><circle cx="8.00" cy="15.00" r="1.25" fill="#f5222d"/><circle cx="6.79" cy="13.26" r="0.95" fill="#fdb42a"/><circle cx="9.21" cy="13.26" r="0.95" fill="#fdb42a"/><circle cx="14.06" cy="11.50" r="1.25" fill="#f5222d"/><circle cx="11.95" cy="11.68" r="0.95" fill="#fdb42a"/><circle cx="13.16" cy="9.58" r="0.95" fill="#fdb42a"/><circle cx="14.06" cy="4.50" r="1.25" fill="#f5222d"/><circle cx="13.16" cy="6.42" r="0.95" fill="#fdb42a"/><circle cx="11.95" cy="4.32" r="0.95" fill="#fdb42a"/></svg></div>
<div class="tbt" style="left:402px;top:574.3px;font-size:12.3px;letter-spacing:-0.2px">Zacr...</div>
<svg class="a" style="left:452px;top:572px" width="18" height="16" viewBox="0 0 18 16"><path d="M4.5 0.5L0.5 3L4.5 5.5L8.5 3Z M13.5 0.5L9.5 3L13.5 5.5L17.5 3Z M4.5 5.5L0.5 8L4.5 10.5L8.5 8Z M13.5 5.5L9.5 8L13.5 10.5L17.5 8Z M9 9.5L5 12L9 14.5L13 12Z" fill="#fff"/></svg>
<svg class="a" style="left:477px;top:572px" width="16" height="16" viewBox="0 0 16 16"><rect width="16" height="16" rx="2" fill="#000"/><path d="M1 2.6C5.5 1.2 10.5 1.2 15 2.6L13.7 6C10.7 5 7.7 4.9 5.2 5.5L5.9 7.2C8.2 6.6 10.6 6.7 12.9 7.4L11.9 10.3C10.2 9.8 8.6 9.7 7.2 10L9.6 12.6L7.6 14.3Z" fill="#26e3a3"/></svg>
<svg class="a" style="left:501px;top:572px" width="17" height="17" viewBox="0 0 17 17"><path d="M7.5 0.3L14.5 2.5V8C14.5 11.5 11.5 14.3 7.5 16C3.5 14.3 0.5 11.5 0.5 8V2.5Z" fill="#fff"/><path d="M7.5 0.5V15.5M0.8 8H14.2" stroke="#101010" stroke-width="1"/><circle cx="11.7" cy="12" r="4.7" fill="#1f8f4b"/><path d="M9.4 12L11 13.6L14 10.6" stroke="#fff" stroke-width="1.2" fill="none"/></svg>
<svg class="a" style="left:527px;top:572px" width="12" height="16" viewBox="0 0 12 16"><rect width="12" height="16" rx="6" fill="#1a7ff5"/><path d="M3 5L8.7 10.4L6 13V3L8.7 5.6L3 11" stroke="#fff" stroke-width="1.1" fill="none"/></svg>
<svg class="a" style="left:549px;top:572px" width="16" height="16" viewBox="0 0 16 16"><rect x="0" y="0" width="16" height="16" fill="#8d8d8d"/><rect x="1" y="1" width="14" height="14" fill="#c4c4c4"/><rect x="1.5" y="1.5" width="13" height="9.5" fill="#c6c6c6" stroke="#1c22a8" stroke-width="1"/><rect x="2" y="12" width="5.3" height="2" fill="#1c22a8"/><rect x="8.7" y="12" width="5.3" height="2" fill="#1c22a8"/></svg>
<svg class="a" style="left:572px;top:574px" width="18" height="12" viewBox="0 0 18 12"><path d="M1.5 0V2.5M4.5 0V2.5" stroke="#fff"/><path d="M0.5 2.5H5.5V4.5A2.5 2.5 0 0 1 0.5 4.5Z" fill="none" stroke="#fff"/><path d="M3 7V11.5" stroke="#fff"/><rect x="5.5" y="3.5" width="10" height="7" fill="none" stroke="#fff"/><rect x="7" y="5" width="7" height="4" fill="#fff"/><rect x="15.5" y="5.5" width="1.5" height="3" fill="#fff"/></svg>
<svg class="a" style="left:599px;top:574px" width="14" height="14" viewBox="0 0 14 14"><path d="M1 13A12 12 0 0 1 13 1 M4 13A9 9 0 0 1 13 4 M7 13A6 6 0 0 1 13 7" stroke="#fff" fill="none" stroke-width="1"/><circle cx="11.5" cy="11.5" r="1.5" fill="#fff"/></svg>
<svg class="a" style="left:620px;top:573px" width="18" height="15" viewBox="0 0 18 15"><path d="M1 5H4L8.5 1V14L4 10H1Z" stroke="#fff" fill="none"/><path d="M11 5A3 3 0 0 1 11 10 M13 3A6 6 0 0 1 13 12 M15 1.5A8.5 8.5 0 0 1 15 13.5" stroke="#ccc" fill="none"/></svg>
<div class="tbt" style="left:647.3px;top:575px;font-size:11.5px">ENG</div>
<div class="tbt" style="left:697.6px;top:565.4px;font-size:12px">11:18</div>
<div class="tbt" style="left:682.8px;top:583px;font-size:12.2px;letter-spacing:-0.2px">07/10/2020</div>
<svg class="a" style="left:758px;top:570.5px" width="28" height="26" viewBox="0 0 28 26"><path d="M1.5 1.5H17V13H10L7 16V13H1.5Z" fill="#fff"/><path d="M4 4.5H14M4 7.5H14M4 10.5H11" stroke="#101010" stroke-width="1"/><circle cx="16.5" cy="16.5" r="7.5" fill="#3c3c3c" stroke="#e0e0e0" stroke-width="1"/><text x="16.5" y="20.6" font-size="12" font-weight="bold" fill="#fff" text-anchor="middle" font-family="Liberation Sans">4</text></svg>
<div class="a" style="left:795px;top:560px;width:1px;height:40px;background:#5a5a5a"></div>

</body></html>
